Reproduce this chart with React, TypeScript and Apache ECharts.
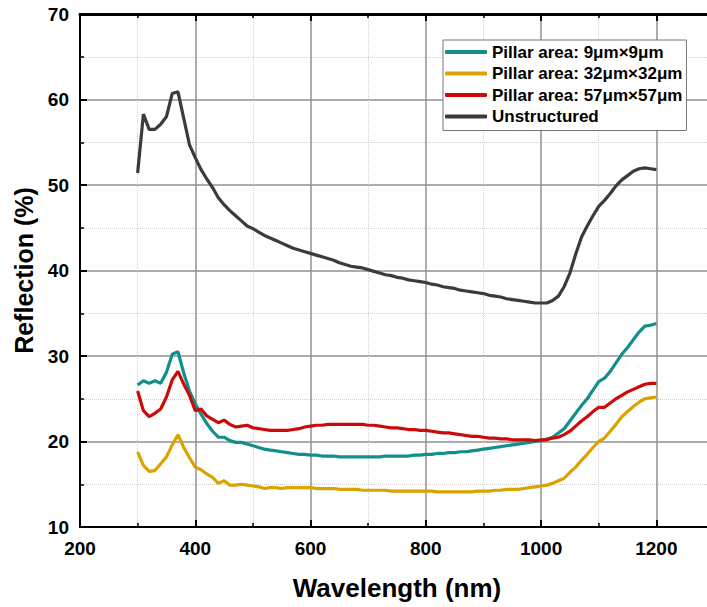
import React, { useEffect, useRef } from "react";
import * as echarts from "echarts";

const wavelengths: number[] = [
  300, 310, 320, 330, 340, 350, 360, 370, 380, 390,
  400, 410, 420, 430, 440, 450, 460, 470, 480, 490,
  500, 510, 520, 530, 540, 550, 560, 570, 580, 590,
  600, 610, 620, 630, 640, 650, 660, 670, 680, 690,
  700, 710, 720, 730, 740, 750, 760, 770, 780, 790,
  800, 810, 820, 830, 840, 850, 860, 870, 880, 890,
  900, 910, 920, 930, 940, 950, 960, 970, 980, 990,
  1000, 1010, 1020, 1030, 1040, 1050, 1060, 1070, 1080, 1090,
  1100, 1110, 1120, 1130, 1140, 1150, 1160, 1170, 1180, 1190,
  1200,
];

const pillar9: number[] = [
  26.6, 27.1, 26.8, 27.1, 26.8, 28.1, 30.2, 30.5, 28.0, 25.9,
  24.4, 23.2, 22.1, 21.2, 20.5, 20.5, 20.1, 19.9, 19.9, 19.7,
  19.5, 19.3, 19.1, 19.0, 18.9, 18.8, 18.7, 18.6, 18.5, 18.5,
  18.4, 18.4, 18.3, 18.3, 18.3, 18.2, 18.2, 18.2, 18.2, 18.2,
  18.2, 18.2, 18.2, 18.3, 18.3, 18.3, 18.3, 18.3, 18.4, 18.4,
  18.5, 18.5, 18.6, 18.6, 18.7, 18.7, 18.8, 18.8, 18.9, 19.0,
  19.1, 19.2, 19.3, 19.4, 19.5, 19.6, 19.7, 19.8, 19.9, 20.0,
  20.1, 20.3, 20.5, 21.0, 21.5, 22.4, 23.3, 24.2, 25.0, 26.0,
  27.0, 27.4, 28.2, 29.2, 30.2, 31.0, 31.9, 32.8, 33.5, 33.6,
  33.8,
];

const pillar32: number[] = [
  18.8, 17.2, 16.5, 16.6, 17.4, 18.2, 19.6, 20.8, 19.3, 18.1,
  17.0, 16.7, 16.2, 15.8, 15.1, 15.4, 14.9, 14.9, 15.0, 14.9,
  14.8, 14.7, 14.5, 14.6, 14.6, 14.5, 14.6, 14.6, 14.6, 14.6,
  14.6, 14.5, 14.5, 14.5, 14.5, 14.4, 14.4, 14.4, 14.4, 14.3,
  14.3, 14.3, 14.3, 14.3, 14.2, 14.2, 14.2, 14.2, 14.2, 14.2,
  14.2, 14.2, 14.1, 14.1, 14.1, 14.1, 14.1, 14.1, 14.1, 14.2,
  14.2, 14.2, 14.3, 14.3, 14.4, 14.4, 14.4, 14.5, 14.6, 14.7,
  14.8, 14.9, 15.1, 15.4, 15.7, 16.4, 17.0, 17.8, 18.5, 19.3,
  20.0, 20.4, 21.2, 22.0, 22.9, 23.5, 24.1, 24.6, 25.0, 25.1,
  25.2,
];

const pillar57: number[] = [
  25.9, 23.6, 22.9, 23.3, 23.8, 25.2, 27.2, 28.2, 26.7, 25.4,
  23.6, 23.8, 23.0, 22.6, 22.2, 22.5, 22.0, 21.7, 21.8, 21.9,
  21.6, 21.5, 21.4, 21.3, 21.3, 21.3, 21.3, 21.4, 21.5, 21.7,
  21.8, 21.9, 21.9, 22.0, 22.0, 22.0, 22.0, 22.0, 22.0, 22.0,
  21.9, 21.9, 21.8, 21.7, 21.6, 21.6, 21.5, 21.4, 21.4, 21.3,
  21.3, 21.2, 21.1, 21.0, 21.0, 20.9, 20.8, 20.7, 20.6, 20.6,
  20.5, 20.4, 20.4, 20.3, 20.3, 20.2, 20.2, 20.2, 20.2, 20.1,
  20.2, 20.2, 20.4, 20.5, 20.8, 21.2, 21.8, 22.4, 22.9, 23.5,
  24.0, 24.0, 24.5, 25.0, 25.4, 25.8, 26.1, 26.4, 26.7, 26.8,
  26.8,
];

const unstructured: number[] = [
  51.4, 58.3, 56.5, 56.5, 57.1, 58.0, 60.7, 60.9, 57.8, 54.7,
  53.2, 51.8, 50.7, 49.7, 48.5, 47.7, 47.0, 46.4, 45.8, 45.2,
  44.9, 44.5, 44.1, 43.8, 43.5, 43.2, 42.9, 42.6, 42.4, 42.2,
  42.0, 41.8, 41.6, 41.4, 41.2, 40.9, 40.7, 40.5, 40.4, 40.3,
  40.1, 39.9, 39.7, 39.5, 39.4, 39.2, 39.1, 38.9, 38.8, 38.7,
  38.6, 38.4, 38.3, 38.1, 38.0, 37.9, 37.7, 37.6, 37.5, 37.4,
  37.3, 37.1, 37.0, 36.9, 36.7, 36.6, 36.5, 36.4, 36.3, 36.2,
  36.2, 36.2, 36.5, 37.0, 38.1, 39.7, 41.9, 43.9, 45.2, 46.4,
  47.5, 48.2, 49.0, 49.9, 50.6, 51.1, 51.6, 51.9, 52.0, 51.9,
  51.8,
];

const seriesNames: string[] = [
  "Pillar area: 9μm×9μm",
  "Pillar area: 32μm×32μm",
  "Pillar area: 57μm×57μm",
  "Unstructured",
];
const seriesColors: string[] = ["#118f8c", "#daa300", "#cc0a0a", "#3b3b3b"];
const seriesValues: number[][] = [pillar9, pillar32, pillar57, unstructured];

const X_MIN = 200;
const X_MAX = 1300;
const Y_MIN = 10;
const Y_MAX = 70;
const xTitle = "Wavelength (nm)";
const yTitle = "Reflection (%)";
const FONT = "'Liberation Sans', Arial, sans-serif";

export default function App() {
  const ref = useRef<HTMLDivElement>(null);
  useEffect(() => {
    if (!ref.current) return;
    const chart = echarts.init(ref.current, undefined, { renderer: "svg" });
    const axisLine = { show: true, onZero: false, lineStyle: { color: "#000", width: 2 } };
    const axisTick = { show: true, inside: true, length: 7, lineStyle: { color: "#000", width: 2 } };
    const minorTick = { show: true, splitNumber: 2, length: 4, lineStyle: { color: "#000", width: 1.5 } };
    const plain = (v: number) => String(v);
    chart.setOption({
      animation: false,
      backgroundColor: "#fff",
      grid: {
        left: 80,
        top: 14,
        width: 634,
        height: 513,
        outerBoundsMode: "none",
        show: true,
        borderColor: "#000",
        borderWidth: 2,
      },
      legend: {
        left: 443,
        top: 40,
        orient: "vertical",
        data: seriesNames,
        icon: "roundRect",
        itemWidth: 42,
        itemHeight: 4,
        itemGap: 3.5,
        padding: [3, 4, 5, 2],
        backgroundColor: "#fff",
        borderColor: "#777",
        borderWidth: 1,
        borderRadius: 0,
        textStyle: {
          fontFamily: FONT,
          fontWeight: "bold",
          fontSize: 17,
          color: "#000",
          lineHeight: 18,
        },
      },
      xAxis: [
        {
          type: "value",
          position: "bottom",
          min: X_MIN,
          max: X_MAX,
          interval: 200,
          axisLine,
          axisTick,
          minorTick,
          splitLine: { show: true, lineStyle: { color: "#909090", width: 1.5 } },
          minorSplitLine: { show: true, lineStyle: { color: "#cfcfcf", width: 1, type: "dotted" } },
          axisLabel: {
            show: true,
            showMaxLabel: false,
            margin: 12,
            color: "#000",
            fontFamily: FONT,
            fontWeight: "bold",
            fontSize: 19,
            formatter: plain,
          },
          name: xTitle,
          nameLocation: "middle",
          nameGap: 48,
          nameTextStyle: { fontFamily: FONT, fontWeight: "bold", fontSize: 26, color: "#000" },
        },
        {
          type: "value",
          position: "top",
          min: X_MIN,
          max: X_MAX,
          interval: 200,
          axisLine: { show: true, onZero: false, lineStyle: { color: "#000", width: 3 } },
          axisTick,
          minorTick,
          splitLine: { show: false },
          axisLabel: { show: false },
        },
      ],
      yAxis: [
        {
          type: "value",
          position: "left",
          min: Y_MIN,
          max: Y_MAX,
          interval: 10,
          axisLine,
          axisTick,
          minorTick,
          splitLine: { show: true, lineStyle: { color: "#909090", width: 1.5 } },
          minorSplitLine: { show: true, lineStyle: { color: "#cfcfcf", width: 1, type: "dotted" } },
          axisLabel: {
            show: true,
            margin: 11,
            color: "#000",
            fontFamily: FONT,
            fontWeight: "bold",
            fontSize: 19,
            formatter: plain,
          },
          name: yTitle,
          nameLocation: "middle",
          nameGap: 42,
          nameTextStyle: { fontFamily: FONT, fontWeight: "bold", fontSize: 25, color: "#000" },
        },
        {
          type: "value",
          position: "right",
          min: Y_MIN,
          max: Y_MAX,
          interval: 10,
          axisLine,
          axisTick,
          minorTick,
          splitLine: { show: false },
          axisLabel: { show: false },
        },
      ],
      series: seriesNames.map((name, i) => ({
        name,
        type: "line",
        xAxisIndex: 0,
        yAxisIndex: 0,
        showSymbol: false,
        symbol: "none",
        color: seriesColors[i],
        lineStyle: { color: seriesColors[i], width: 3.2 },
        data: wavelengths.map((w, j) => [w, seriesValues[i][j]]),
        z: 3,
      })),
    });

    const finder = { xAxisIndex: 0, yAxisIndex: 0 };
    const tl = chart.convertToPixel(finder, [X_MIN, Y_MAX]) as number[];
    const tr = chart.convertToPixel(finder, [X_MAX, Y_MAX]) as number[];
    chart.setOption({
      graphic: [
        {
          type: "line",
          shape: { x1: tl[0], y1: tl[1] + 0.5, x2: tr[0], y2: tr[1] + 0.5 },
          style: { stroke: "#000", lineWidth: 3 },
          z: 10,
        },
      ],
    });
    return () => chart.dispose();
  }, []);
  return (
    <div
      ref={ref}
      style={{ position: "fixed", left: 0, top: 0, width: 707, height: 607 }}
    />
  );
}
